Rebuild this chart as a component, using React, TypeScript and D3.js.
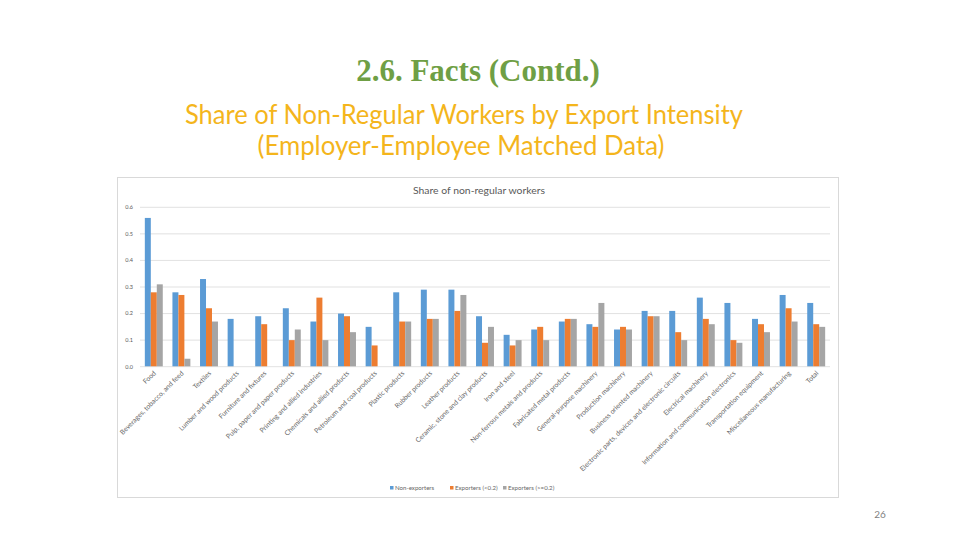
import React from "react";
import * as d3 from "d3";

const categories: string[] = [
  "Food",
  "Beverages, tobacco, and feed",
  "Textiles",
  "Lumber and wood products",
  "Furniture and fixtures",
  "Pulp, paper and paper products",
  "Printing and allied industries",
  "Chemicals and allied products",
  "Petroleum and coal products",
  "Plastic products",
  "Rubber products",
  "Leather products",
  "Ceramic, stone and clay products",
  "Iron and steel",
  "Non-ferrous metals and products",
  "Fabricated metal products",
  "General-purpose machinery",
  "Production machinery",
  "Business oriented machinery",
  "Electronic parts, devices and electronic circuits",
  "Electrical machinery",
  "Information and communication electronics",
  "Transportation equipment",
  "Miscellaneous manufacturing",
  "Total",
];

const seriesNames: string[] = ["Non-exporters", "Exporters (<0.2)", "Exporters (>=0.2)"];
const seriesColors: string[] = ["#5b9bd5", "#ed7d31", "#a5a5a5"];

const nonExporters: (number | null)[] = [
  0.56, 0.28, 0.33, 0.18, 0.19, 0.22, 0.17, 0.2, 0.15, 0.28, 0.29, 0.29, 0.19,
  0.12, 0.14, 0.17, 0.16, 0.14, 0.21, 0.21, 0.26, 0.24, 0.18, 0.27, 0.24,
];
const exportersLow: (number | null)[] = [
  0.28, 0.27, 0.22, null, 0.16, 0.1, 0.26, 0.19, 0.08, 0.17, 0.18, 0.21, 0.09,
  0.08, 0.15, 0.18, 0.15, 0.15, 0.19, 0.13, 0.18, 0.1, 0.16, 0.22, 0.16,
];
const exportersHigh: (number | null)[] = [
  0.31, 0.03, 0.17, null, null, 0.14, 0.1, 0.13, null, 0.17, 0.18, 0.27, 0.15,
  0.1, 0.1, 0.18, 0.24, 0.14, 0.19, 0.1, 0.16, 0.09, 0.13, 0.17, 0.15,
];

const yTicks: number[] = [0, 0.1, 0.2, 0.3, 0.4, 0.5, 0.6];

const seriesData = [nonExporters, exportersLow, exportersHigh];

export default function App() {
  const W = 960;
  const H = 540;
  const x0 = d3
    .scaleBand<string>()
    .domain(categories)
    .range([140, 830])
    .paddingInner(0.35)
    .paddingOuter(0.175);
  const x1 = d3
    .scaleBand<string>()
    .domain(seriesNames)
    .range([0, x0.bandwidth()]);
  const y = d3.scaleLinear().domain([0, 0.6]).range([366.7, 207.3]);

  const calibri = "Lato, 'Open Sans', sans-serif";
  const legendX = [390, 450, 503];

  return (
    <svg
      width={W}
      height={H}
      style={{ position: "absolute", left: 0, top: 0, background: "#fff" }}
    >
      <rect x={0} y={0} width={W} height={H} fill="#fff" />
      <text
        x={478}
        y={81}
        textAnchor="middle"
        fontFamily="'Liberation Serif', 'Times New Roman', serif"
        fontWeight="bold"
        fontSize={31}
        fill="#6f9f45"
      >
        2.6. Facts (Contd.)
      </text>
      <text
        x={464}
        y={124}
        textAnchor="middle"
        fontFamily={calibri}
        fontSize={26}
        fill="#f4b51c"
        textLength={558}
        lengthAdjust="spacingAndGlyphs"
      >
        Share of Non-Regular Workers by Export Intensity
      </text>
      <text
        x={461}
        y={155}
        textAnchor="middle"
        fontFamily={calibri}
        fontSize={26}
        fill="#f4b51c"
        textLength={407}
        lengthAdjust="spacingAndGlyphs"
      >
        (Employer-Employee Matched Data)
      </text>

      <rect x={117.5} y={177.5} width={721} height={320} fill="#fff" stroke="#d9d9d9" strokeWidth={1} />

      <text
        x={479}
        y={194}
        textAnchor="middle"
        fontFamily={calibri}
        fontSize={9.5}
        fill="#595959"
        textLength={132}
        lengthAdjust="spacingAndGlyphs"
      >
        Share of non-regular workers
      </text>

      {yTicks.map((t) => (
        <g key={t}>
          {t > 0 && (
            <line x1={140} x2={830} y1={y(t)} y2={y(t)} stroke="#d9d9d9" strokeWidth={0.8} />
          )}
          <text
            x={133}
            y={y(t)}
            dy="0.35em"
            textAnchor="end"
            fontFamily={calibri}
            fontSize={5.5}
            fill="#595959"
          >
            {t.toFixed(1)}
          </text>
        </g>
      ))}

      {categories.map((c, i) => (
        <g key={c} transform={`translate(${x0(c)},0)`}>
          {seriesData.map((s, j) => {
            const v = s[i];
            if (v === null) return null;
            return (
              <rect
                key={j}
                x={x1(seriesNames[j])}
                width={x1.bandwidth()}
                y={y(v)}
                height={y(0) - y(v)}
                fill={seriesColors[j]}
              />
            );
          })}
        </g>
      ))}
      <line x1={140} x2={830} y1={y(0)} y2={y(0)} stroke="#d9d9d9" strokeWidth={0.8} />

      {categories.map((c) => {
        const cx = (x0(c) as number) + x0.bandwidth() / 2 + 1;
        return (
          <text
            key={c}
            transform={`translate(${cx},${372}) rotate(-45)`}
            textAnchor="end"
            dy="0.35em"
            fontFamily={calibri}
            fontSize={6.8}
            fill="#666666"
          >
            {c}
          </text>
        );
      })}

      {seriesNames.map((n, j) => (
        <g key={n}>
          <rect x={legendX[j]} y={486} width={3.5} height={3.5} fill={seriesColors[j]} />
          <text
            x={legendX[j] + 5}
            y={488}
            dy="0.35em"
            fontFamily={calibri}
            fontSize={6.1}
            fill="#666666"
          >
            {n}
          </text>
        </g>
      ))}

      <text
        x={880}
        y={518}
        textAnchor="middle"
        fontFamily={calibri}
        fontSize={10}
        fill="#7f7f7f"
      >
        26
      </text>
    </svg>
  );
}
